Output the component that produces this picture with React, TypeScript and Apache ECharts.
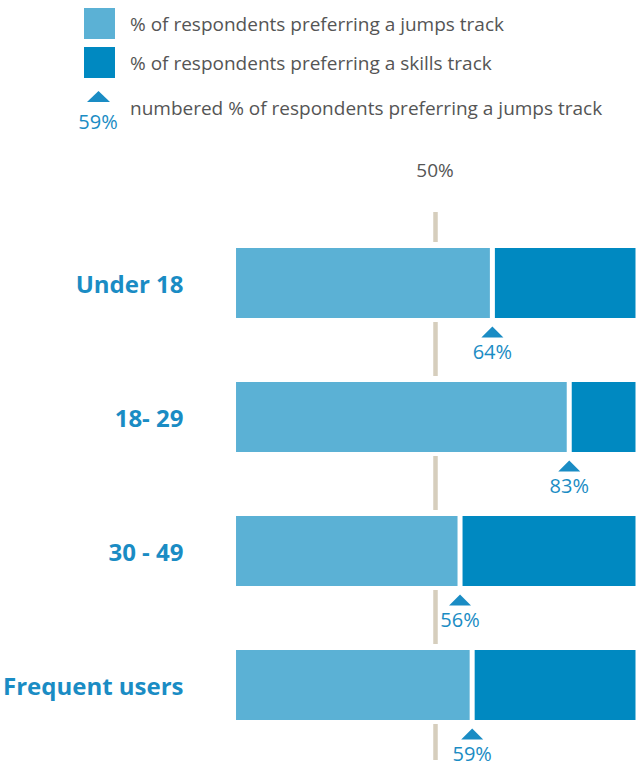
import React, { useEffect, useRef } from "react";
import * as echarts from "echarts";

const categories = ["Under 18", "18- 29", "30 - 49", "Frequent users"];
const jumpsValues = [64, 83, 56, 59];
const skillsValues = [36, 17, 44, 41];
const seriesNames = [
  "% of respondents preferring a jumps track",
  "% of respondents preferring a skills track",
];
const markerLegendText = "numbered % of respondents preferring a jumps track";
const markerLegendSample = "59%";

const LIGHT = "#5bb1d5";
const DARK = "#0089c1";
const BLUE_TEXT = "#1a8cc4";
const GRAY_TEXT = "#555555";
const REF_LINE = "#d6cebd";
const FONT = "'Open Sans', 'Noto Sans', sans-serif";

export default function App() {
  const ref = useRef<HTMLDivElement>(null);
  useEffect(() => {
    if (!ref.current) return;
    const chart = echarts.init(ref.current, undefined, { renderer: "svg" });
    chart.setOption({
      animation: false,
      textStyle: { fontFamily: FONT },
      legend: {
        orient: "vertical",
        left: 84,
        top: 8,
        itemWidth: 31,
        itemHeight: 31,
        itemGap: 8,
        padding: 0,
        icon: "rect",
        selectedMode: false,
        data: seriesNames,
        itemStyle: { borderWidth: 0 },
        textStyle: { fontSize: 19, color: GRAY_TEXT, fontFamily: FONT, padding: [0, 0, 0, 10] },
      },
      graphic: [
        {
          type: "polygon",
          shape: { points: [[87, 102], [110, 102], [98.5, 91]] },
          style: { fill: BLUE_TEXT },
        },
        {
          type: "text",
          x: 98,
          y: 121,
          style: {
            text: markerLegendSample,
            fill: BLUE_TEXT,
            fontSize: 20,
            fontFamily: FONT,
            align: "center",
            verticalAlign: "middle",
          },
        },
        {
          type: "text",
          x: 130,
          y: 108,
          style: {
            text: markerLegendText,
            fill: GRAY_TEXT,
            fontSize: 19,
            fontFamily: FONT,
            align: "left",
            verticalAlign: "middle",
          },
        },
      ],
      grid: [
        { left: 235, top: 212, width: 404, height: 548 },
        { left: 232.5, top: 216, width: 409, height: 536 },
      ],
      xAxis: [
        {
          gridIndex: 0,
          type: "value",
          position: "top",
          min: 0,
          max: 100,
          interval: 50,
          axisLine: { show: false },
          axisTick: { show: false },
          axisLabel: {
            margin: 33,
            fontSize: 19,
            color: GRAY_TEXT,
            fontFamily: FONT,
            formatter: (v: number) => (v === 50 ? v + "%" : ""),
          },
          splitLine: {
            show: true,
            lineStyle: {
              color: ["rgba(0,0,0,0)", REF_LINE, "rgba(0,0,0,0)"],
              width: 4.5,
              type: [54, 80],
              dashOffset: 24,
            },
          },
        },
        {
          gridIndex: 1,
          type: "value",
          min: 0,
          max: 100,
          show: false,
        },
      ],
      yAxis: [
        {
          gridIndex: 0,
          type: "category",
          data: categories,
          show: false,
        },
        {
          gridIndex: 1,
          type: "category",
          data: categories,
          inverse: true,
          axisLine: { show: false },
          axisTick: { show: false },
          splitLine: { show: false },
          axisLabel: {
            margin: 50,
            fontSize: 24,
            fontWeight: "bold",
            color: BLUE_TEXT,
            fontFamily: FONT,
          },
        },
      ],
      series: [
        {
          name: seriesNames[0],
          type: "bar",
          stack: "total",
          xAxisIndex: 1,
          yAxisIndex: 1,
          barWidth: 75,
          data: jumpsValues,
          itemStyle: { color: LIGHT, borderColor: "#ffffff", borderWidth: 2.5 },
        },
        {
          name: seriesNames[1],
          type: "bar",
          stack: "total",
          xAxisIndex: 1,
          yAxisIndex: 1,
          barWidth: 75,
          data: skillsValues,
          itemStyle: { color: DARK, borderColor: "#ffffff", borderWidth: 2.5 },
        },
        {
          name: "markers",
          type: "scatter",
          xAxisIndex: 1,
          yAxisIndex: 1,
          z: 5,
          symbol: "triangle",
          symbolSize: [22, 11],
          symbolOffset: [0, 49],
          itemStyle: { color: BLUE_TEXT, opacity: 1 },
          data: jumpsValues.map((v, i) => [v, categories[i]]),
          label: {
            show: true,
            position: "bottom",
            distance: 5,
            fontSize: 20,
            lineHeight: 18,
            color: BLUE_TEXT,
            fontFamily: FONT,
            textBorderColor: "#ffffff",
            textBorderWidth: 2,
            formatter: (p: any) => p.value[0] + "%",
          },
        },
      ],
    });
    return () => chart.dispose();
  }, []);
  return (
    <div
      ref={ref}
      style={{ position: "fixed", left: 0, top: 0, width: 638, height: 767, background: "#fff" }}
    />
  );
}
